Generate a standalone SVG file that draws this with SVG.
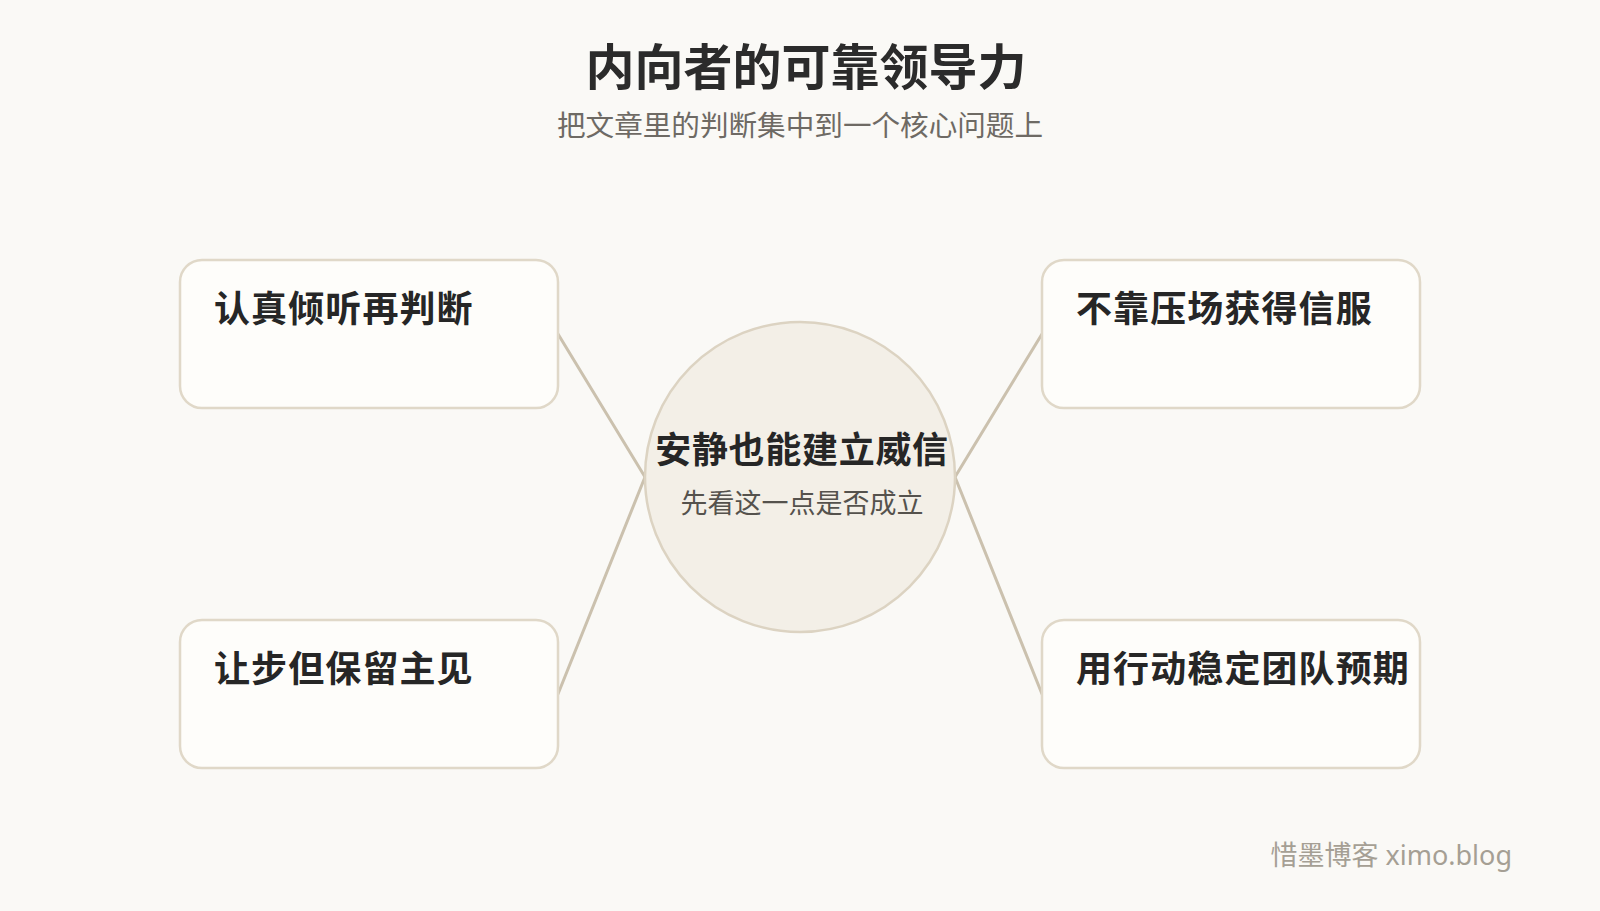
<svg xmlns="http://www.w3.org/2000/svg" width="1600" height="911" viewBox="0 0 1600 911">
  <style>
    text { font-family: "Noto Sans", "Noto Sans CJK SC", sans-serif; }
    .title { font-size: 49px; font-weight: 700; fill: #2b2b2b; }
    .subtitle { font-size: 28.6px; font-weight: 400; fill: #6e6a64; }
    .box { fill: #fefdfa; stroke: #e0d8c8; stroke-width: 2.5; }
    .label { font-size: 36px; font-weight: 700; fill: #262626; letter-spacing: 1.1px; }
    .hublabel { font-size: 36px; font-weight: 700; fill: #262626; letter-spacing: 0.7px; }
    .hub { fill: #f3efe7; stroke: #dcd3c2; stroke-width: 2.5; }
    .hubsub { font-size: 27px; font-weight: 400; fill: #55524d; }
    .conn { stroke: #cbc1ae; stroke-width: 3; fill: none; stroke-linecap: round; }
    .footer { font-size: 27px; font-weight: 400; fill: #a59f94; }
  </style>
  <rect x="0" y="0" width="1600" height="911" fill="#faf9f6"/>

  <g id="header">
    <text class="title" x="806" y="85" text-anchor="middle">内向者的可靠领导力</text>
    <text class="subtitle" x="800" y="136" text-anchor="middle">把文章里的判断集中到一个核心问题上</text>
  </g>

  <g id="connectors">
    <line class="conn" x1="558" y1="334" x2="645" y2="477"/>
    <line class="conn" x1="558" y1="694" x2="645" y2="477"/>
    <line class="conn" x1="1042" y1="334" x2="955" y2="477"/>
    <line class="conn" x1="1042" y1="694" x2="955" y2="477"/>
  </g>

  <g id="node-top-left">
    <rect class="box" x="180" y="260" width="378" height="148" rx="22"/>
    <text class="label" x="214" y="322">认真倾听再判断</text>
  </g>
  <g id="node-bottom-left">
    <rect class="box" x="180" y="620" width="378" height="148" rx="22"/>
    <text class="label" x="214" y="682">让步但保留主见</text>
  </g>
  <g id="node-top-right">
    <rect class="box" x="1042" y="260" width="378" height="148" rx="22"/>
    <text class="label" x="1076" y="322">不靠压场获得信服</text>
  </g>
  <g id="node-bottom-right">
    <rect class="box" x="1042" y="620" width="378" height="148" rx="22"/>
    <text class="label" x="1076" y="682">用行动稳定团队预期</text>
  </g>

  <g id="node-center">
    <circle class="hub" cx="800" cy="477" r="155"/>
    <text class="hublabel" x="802" y="463" text-anchor="middle">安静也能建立威信</text>
    <text class="hubsub" x="802" y="513" text-anchor="middle">先看这一点是否成立</text>
  </g>

  <g id="footer">
    <text class="footer" x="1512" y="865" text-anchor="end">惜墨博客 ximo.blog</text>
  </g>
</svg>
